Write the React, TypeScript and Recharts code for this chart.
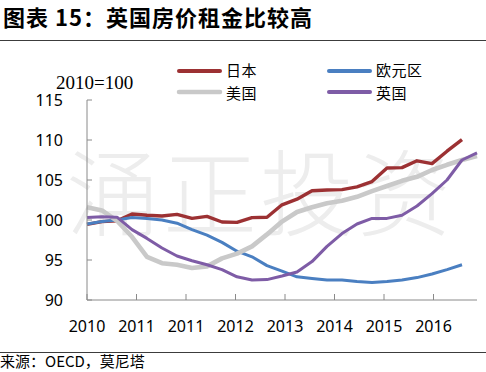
import React from 'react';
import { LineChart, Line, XAxis, YAxis } from 'recharts';

const quarters = [
  '2010Q1', '2010Q2', '2010Q3', '2010Q4',
  '2011Q1', '2011Q2', '2011Q3', '2011Q4',
  '2012Q1', '2012Q2', '2012Q3', '2012Q4',
  '2013Q1', '2013Q2', '2013Q3', '2013Q4',
  '2014Q1', '2014Q2', '2014Q3', '2014Q4',
  '2015Q1', '2015Q2', '2015Q3', '2015Q4',
  '2016Q1', '2016Q2', '2016Q3',
];

const japan = [99.45, 99.8, 99.9, 100.75, 100.6, 100.5, 100.7, 100.2, 100.45, 99.75, 99.7, 100.3, 100.35, 101.9, 102.6, 103.65, 103.75, 103.8, 104.15, 104.8, 106.5, 106.55, 107.4, 107.05, 108.6, 110.05];
const euroArea = [99.5, 99.8, 100.0, 100.3, 100.2, 100.0, 99.6, 98.8, 98.1, 97.2, 96.1, 95.4, 94.3, 93.6, 92.9, 92.7, 92.5, 92.5, 92.3, 92.2, 92.3, 92.5, 92.8, 93.25, 93.8, 94.4];
const usa = [101.6, 101.2, 99.9, 97.9, 95.4, 94.6, 94.4, 94.0, 94.2, 95.2, 95.8, 96.7, 98.2, 99.8, 101.0, 101.6, 102.1, 102.4, 102.9, 103.6, 104.25, 104.9, 105.4, 106.25, 106.9, 107.5, 108.0];
const uk = [100.3, 100.4, 100.35, 98.8, 97.7, 96.5, 95.5, 94.9, 94.4, 93.8, 92.9, 92.5, 92.55, 93.0, 93.5, 94.8, 96.7, 98.3, 99.5, 100.2, 100.2, 100.6, 101.75, 103.3, 105.0, 107.5, 108.4];

const yTicks = [90, 95, 100, 105, 110, 115];
const xTickLabels = ['2010', '2011', '2011', '2012', '2013', '2014', '2015', '2016'];
const xTickStep = 3.3;

const seriesNames = { japan: '日本', euroArea: '欧元区', usa: '美国', uk: '英国' };

const data = quarters.map((q, i) => ({
  q,
  i,
  japan: japan[i] ?? null,
  euroArea: euroArea[i] ?? null,
  usa: usa[i] ?? null,
  uk: uk[i] ?? null,
}));

const AXIS = '#8a8a8a';
const C_JP = '#9c3133';
const C_EU = '#4a7fc1';
const C_US = '#c9c9c9';
const C_UK = '#7e5ca6';

const TICK_FONT = '"Noto Sans", sans-serif';
const CJK = '"Noto Sans CJK SC", sans-serif';

const YTick = (props: any) => {
  const { x, y, payload } = props;
  return (
    <g>
      <line x1={x + 24} x2={x + 29} y1={y} y2={y} stroke={AXIS} strokeWidth={1} />
      <text x={x} y={y} dy={6} textAnchor="end" fontSize={16} fontFamily={TICK_FONT} fill="#000">
        {payload.value}
      </text>
    </g>
  );
};

const XTick = (props: any) => {
  const { x, y, payload } = props;
  const k = Math.round(payload.value / xTickStep);
  return (
    <g>
      <line x1={x} x2={x} y1={y - 20} y2={y - 26} stroke={AXIS} strokeWidth={1} />
      <text x={x} y={y + 12} textAnchor="middle" fontSize={16} fontFamily={TICK_FONT} fill="#000">
        {xTickLabels[k]}
      </text>
    </g>
  );
};

export default function App() {
  return (
    <div style={{ position: 'absolute', left: 0, top: 0, width: 486, height: 372, background: '#fff', overflow: 'hidden' }}>
      <svg width={486} height={372} style={{ position: 'absolute', left: 0, top: 0 }}>
        <text x={66} y={229} fontSize={94} fontFamily={CJK} fontWeight={300} fill="#ededed" letterSpacing={3}>
          涌正投资
        </text>
      </svg>
      <div style={{ position: 'absolute', left: 0, top: 0 }}>
        <LineChart width={486} height={372} data={data} margin={{ top: 100, right: 9, bottom: 0, left: 0 }}>
          <XAxis
            type="number"
            dataKey="i"
            domain={[0, 26]}
            ticks={xTickLabels.map((_, k) => k * xTickStep)}
            interval={0}
            allowDecimals
            height={72}
            tickSize={0}
            tickMargin={20}
            tickLine={false}
            axisLine={{ stroke: AXIS, strokeWidth: 1 }}
            tick={<XTick />}
          />
          <YAxis
            type="number"
            domain={[90, 115]}
            ticks={yTicks}
            interval={0}
            width={87}
            tickSize={0}
            tickMargin={24}
            tickLine={false}
            axisLine={{ stroke: AXIS, strokeWidth: 1 }}
            tick={<YTick />}
          />
          <Line type="linear" dataKey="japan" name={seriesNames.japan} stroke={C_JP} strokeWidth={3.4} dot={false} isAnimationActive={false} strokeLinejoin="round" />
          <Line type="linear" dataKey="euroArea" name={seriesNames.euroArea} stroke={C_EU} strokeWidth={3} dot={false} isAnimationActive={false} strokeLinejoin="round" />
          <Line type="linear" dataKey="usa" name={seriesNames.usa} stroke={C_US} strokeWidth={4.6} dot={false} isAnimationActive={false} strokeLinejoin="round" />
          <Line type="linear" dataKey="uk" name={seriesNames.uk} stroke={C_UK} strokeWidth={3} dot={false} isAnimationActive={false} strokeLinejoin="round" />
        </LineChart>
      </div>
      <svg width={486} height={372} style={{ position: 'absolute', left: 0, top: 0, pointerEvents: 'none' }}>
        <text x={3} y={25.5} fontSize={22} fontWeight={700} fontFamily={CJK} fill="#000" letterSpacing={1}>
          图表 15：英国房价租金比较高
        </text>
        <line x1={0} x2={486} y1={40.5} y2={40.5} stroke="#3c3c3c" strokeWidth={1} />
        <text x={56} y={89} fontSize={19} fontFamily='"Liberation Serif", serif' fill="#000">2010=100</text>
        <line x1={179} x2={220} y1={71} y2={71} stroke={C_JP} strokeWidth={4} strokeLinecap="round" />
        <text x={226} y={76} fontSize={15} fontFamily={CJK} fill="#000" letterSpacing={0.5}>{seriesNames.japan}</text>
        <line x1={329} x2={370} y1={71} y2={71} stroke={C_EU} strokeWidth={4} strokeLinecap="round" />
        <text x={376} y={76} fontSize={15} fontFamily={CJK} fill="#000" letterSpacing={0.5}>{seriesNames.euroArea}</text>
        <line x1={179} x2={220} y1={92} y2={92} stroke={C_US} strokeWidth={4.5} strokeLinecap="round" />
        <text x={226} y={98.5} fontSize={15} fontFamily={CJK} fill="#000" letterSpacing={0.5}>{seriesNames.usa}</text>
        <line x1={329} x2={370} y1={92} y2={92} stroke={C_UK} strokeWidth={4} strokeLinecap="round" />
        <text x={376} y={98.5} fontSize={15} fontFamily={CJK} fill="#000" letterSpacing={0.5}>{seriesNames.uk}</text>
        <line x1={0} x2={486} y1={352.5} y2={352.5} stroke="#3c3c3c" strokeWidth={1} />
        <text x={0} y={366.5} fontSize={15} fontFamily={CJK} fill="#000">来源：OECD，莫尼塔</text>
      </svg>
    </div>
  );
}
